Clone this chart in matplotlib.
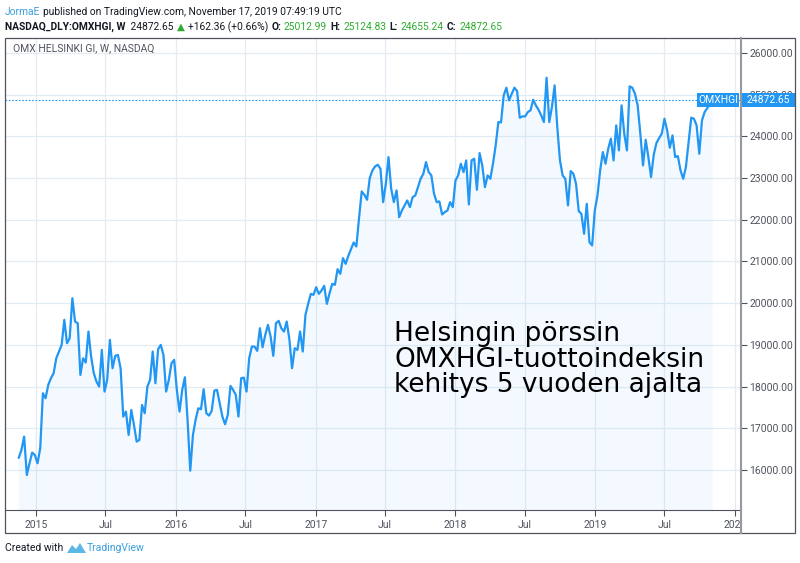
import numpy as np
import pandas as pd
import matplotlib
matplotlib.use('Agg')
import matplotlib.pyplot as plt
import matplotlib.transforms as mtransforms
from matplotlib.patches import Rectangle, Polygon
from matplotlib.lines import Line2D

# weekly closes of OMX Helsinki GI
vals_2015 = [16296, 16480, 16800, 15880, 16160, 16416, 16360, 16160, 16520, 17840,
             17720, 18040, 18200, 18320, 18680, 18840, 19000, 19600, 19040, 19160,
             20120, 19560, 19520, 18280, 18680, 18576, 19320, 18720, 18320, 18120,
             18000, 18880, 17880, 18160, 19120, 18440, 18736, 18760, 18440, 17280,
             17400, 16840, 17440, 17080, 16680, 16720, 17560, 17360, 18000, 18160,
             18840, 18080, 18896, 19000, 18760, 17880, 18160, 18560, 18640, 17920,
             17400, 17920, 18224, 17200]
vals_2016 = [15984, 16840, 17200, 17480, 17456, 17936, 17360, 17304, 17416, 17904,
             17920, 17600, 17280, 17096, 17320, 18016, 17920, 17800, 17280, 18200,
             18216, 17880, 18680, 18960, 18960, 18856, 19400, 18944, 19240, 19480,
             19200, 18736, 19520, 19576, 19400, 19320, 19560, 19136, 18440, 18920,
             18880, 19320, 18840, 19720, 19984, 20224, 20200, 20384, 20224, 20304,
             20416, 19984, 20240, 20464, 20440, 20816, 20704, 21080, 20944, 21136,
             21296, 21456, 21360, 22040, 22680, 22600, 22480, 23000, 23184, 23280,
             23320]
vals_2017 = [23224, 22424, 22864, 23504, 22744, 22424, 22704, 22064, 22224, 22344,
             22464, 22304, 22544, 22584, 22784, 22984, 23104, 23384, 23144, 23064,
             22624, 22424, 22440, 22128, 22184, 22224, 22424, 22304, 22944, 23064,
             23344, 23144, 23424, 22368, 23424, 23464, 22720, 23600, 23304, 22784,
             23064, 22984, 23344, 23784, 24344, 24336, 24984, 25168, 24864, 25024,
             25168, 25088, 24448, 24480, 24480, 24584, 24624, 24880, 24744, 24640,
             24504, 24344, 25408, 24344, 24704, 25224, 24224]
vals_2019 = [23424, 23064, 22984, 22344, 23168, 23104, 22864, 22208, 22144, 21664,
             22384, 21464, 21384, 22224, 22584, 23184, 23624, 23344, 23704, 23944,
             23424, 24264, 23664, 24744, 24064, 23664, 25200, 25168, 25024, 24744,
             24064, 23304, 23920, 23504, 23024, 23560, 23840, 23960, 24064, 24424,
             24144, 23728, 24024, 23504, 23528, 23184, 22984, 23264, 23864, 24448,
             24424, 24264, 23584, 24384, 24584, 24680, 24784, 24872.65]
closes = np.array(vals_2015 + vals_2016 + vals_2017 + vals_2019)
dates = pd.date_range(end='2019-11-04', periods=len(closes), freq='W-MON')
last = closes[-1]

ytick_vals = np.arange(16000, 26001, 1000)
xtick_dates = pd.to_datetime(['2015-01-01', '2015-07-01', '2016-01-01', '2016-07-01',
                              '2017-01-01', '2017-07-01', '2018-01-01', '2018-07-01',
                              '2019-01-01', '2019-07-01', '2020-01-01'])
xtick_labels = ['2015', 'Jul', '2016', 'Jul', '2017', 'Jul', '2018', 'Jul', '2019', 'Jul', '2020']

W, H = 800, 563
BLUE = '#2196f3'
GREEN = '#2eab2e'
DARK = '#131722'
GRID = '#e3ecf3'
UI = ['Roboto', 'DejaVu Sans']

fig = plt.figure(figsize=(8, 5.63), dpi=100)
fig.patch.set_facecolor('white')

def fx(px):
    return px / W

def fy(py):
    return 1 - py / H

ax = fig.add_axes([fx(5), fy(510), fx(741) - fx(5), fy(38) - fy(510)])
ax.plot(dates, closes, color=BLUE, lw=1.6, solid_joinstyle='round', zorder=3)
ax.fill_between(dates, closes, 0, color=BLUE, alpha=0.05, lw=0, zorder=2)
ax.set_ylim(15040, 26360)
ax.set_xlim(pd.Timestamp('2014-10-12'), pd.Timestamp('2020-01-17'))

ax.yaxis.tick_right()
ax.set_yticks(ytick_vals)
ax.set_yticklabels([f'{v:.2f}' for v in ytick_vals], family=UI)
ax.set_xticks(xtick_dates)
ax.set_xticklabels(xtick_labels, family=UI)
ax.tick_params(axis='both', colors='#50535e', labelsize=7.5, length=4, width=0.8)
ax.tick_params(axis='y', pad=2)
ax.tick_params(axis='x', pad=3)
ax.grid(True, color=GRID, lw=0.9)
for s in ['top', 'left', 'right']:
    ax.spines[s].set_visible(False)
ax.spines['bottom'].set_color('#50535e')

# the 2020 label is cut off by the price scale
clip = mtransforms.TransformedBbox(mtransforms.Bbox([[0, 0], [fx(740), 1]]), fig.transFigure)
lab = ax.xaxis.get_major_ticks()[-1].label1
lab.set_clip_box(clip)
lab.set_clip_on(True)

# last price line and labels
ax.axhline(last, color=BLUE, ls=(0, (1.5, 1.5)), lw=0.8, zorder=4)
bt = mtransforms.blended_transform_factory(fig.transFigure, ax.transData)
ax.add_patch(Rectangle((fx(741), last - 175), fx(795) - fx(741), 350, transform=bt,
                       fc=BLUE, ec='none', clip_on=False, zorder=5))
ax.text(fx(768), last, '24872.65', transform=bt, ha='center', va='center',
        color='white', fontsize=7.5, family=UI, zorder=6)
ax.add_patch(Rectangle((fx(697), last - 175), fx(739) - fx(697), 350, transform=bt,
                       fc=BLUE, ec='none', clip_on=False, zorder=5))
ax.text(fx(718), last, 'OMXHGI', transform=bt, ha='center', va='center',
        color='white', fontsize=7.5, family=UI, zorder=6)

# frame
fig.add_artist(Rectangle((fx(5), fy(533)), fx(795) - fx(5), fy(38) - fy(533),
                         transform=fig.transFigure, fill=False, ec='#50535e', lw=0.9))
fig.add_artist(Line2D([fx(741), fx(741)], [fy(533), fy(38)], transform=fig.transFigure,
                      color='#9598a1', lw=1.5))

fig.text(fx(13), fy(48), 'OMX HELSINKI GI, W, NASDAQ', color='#50535e', fontsize=7.5,
         family=UI, va='center', ha='left')

fig.text(fx(394), fy(321), 'Helsingin pörssin\nOMXHGI-tuottoindeksin\nkehitys 5 vuoden ajalta',
         fontsize=19, color='black', va='top', ha='left', linespacing=0.98)

# header rows, pieces laid side by side
renderer = fig.canvas.get_renderer()

def row(x, y, parts, size):
    for s, color, weight in parts:
        t = fig.text(fx(x), fy(y), s, color=color, fontweight=weight, fontsize=size,
                     family=UI, va='center', ha='left')
        x = t.get_window_extent(renderer=renderer).x1 + 3

row(5, 12, [('JormaE', '#3a9fdc', 'normal'),
            ('published on TradingView.com, November 17, 2019 07:49:19 UTC', DARK, 'normal')], 7.4)
row(5, 27, [('NASDAQ_DLY:OMXHGI, W', DARK, 'bold'),
            (' 24872.65', DARK, 'normal'),
            ('▲', GREEN, 'normal'),
            ('+162.36 (+0.66%)', DARK, 'normal'),
            ('O:', DARK, 'bold'), ('25012.99', GREEN, 'normal'),
            ('H:', DARK, 'bold'), ('25124.83', GREEN, 'normal'),
            ('L:', DARK, 'bold'), ('24655.24', GREEN, 'normal'),
            ('C:', DARK, 'bold'), ('24872.65', GREEN, 'normal')], 7.4)

# footer
fig.text(fx(5), fy(548), 'Created with', color=DARK, fontsize=7.5, family=UI, va='center', ha='left')
fig.add_artist(Polygon([(fx(67), fy(553)), (fx(72), fy(545)), (fx(76), fy(549)),
                        (fx(80), fy(543)), (fx(86), fy(553))],
                       closed=True, transform=fig.transFigure, fc='#5cb8e6', ec='none'))
fig.text(fx(87), fy(548), 'TradingView', color='#3a9fdc', fontsize=7.5, family=UI,
         va='center', ha='left')

fig.savefig('out.png', dpi=100)
